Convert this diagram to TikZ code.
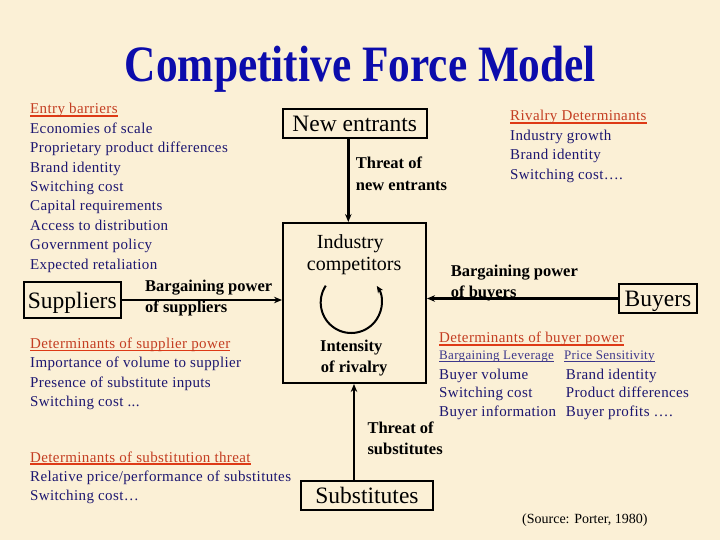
\documentclass[tikz,border=0pt]{standalone}
\usepackage{fontspec}
\usepackage{graphicx}
\setmainfont{Liberation Serif}
\newfontfamily\spacedfont[LetterSpace=2.5]{Liberation Serif}
\usetikzlibrary{arrows.meta}
\definecolor{bg}{RGB}{251,240,214}
\definecolor{navy}{RGB}{28,22,112}
\definecolor{redh}{RGB}{196,62,34}
\definecolor{redu}{RGB}{222,58,22}
\definecolor{subc}{RGB}{62,56,140}
\definecolor{titleblue}{RGB}{12,12,172}
\newcommand\myul[3]{\setbox0\hbox{#3}\leavevmode\rlap{\color{#1}\rule[-2.8pt]{\wd0}{#2}}\box0}
\begin{document}
\begin{tikzpicture}[x=1pt,y=-1pt,
  item/.style={anchor=base west,inner sep=0pt,text=navy,font=\spacedfont\fontsize{15}{18}\selectfont},
  head/.style={item,text=redh},
  box/.style={draw=black,line width=2pt,inner sep=0pt,text height=16pt,text depth=0pt,font=\fontsize{23.5}{26}\selectfont},
  lbl/.style={anchor=base west,inner sep=0pt,font=\bfseries\fontsize{16.5}{19}\selectfont},
  reg/.style={anchor=base,inner sep=0pt,font=\fontsize{20}{22}\selectfont},
  arr/.style={line width=2.4pt,-{Stealth[length=8pt,width=6.5pt]}}]
\fill[bg] (0,0) rectangle (720,540);
\useasboundingbox (0,0) rectangle (720,540);
% title
\node[text=titleblue,anchor=base,inner sep=0pt,font=\bfseries\fontsize{51}{56}\selectfont] (title) at (360.5,81.5) {\scalebox{0.85}[1]{Competitive Force Model}};
% boxes
\node[box,minimum width=144,minimum height=29.5] (ne) at (354.7,123.7) {New entrants};
\node[box,minimum width=96.7,minimum height=35.4] (sup) at (72.3,300) {Suppliers};
\node[box,minimum width=77.7,minimum height=29] (buy) at (658,298.5) {Buyers};
\node[box,minimum width=132,minimum height=29] (sub) at (367,495.5) {Substitutes};
\node[draw=black,line width=2pt,minimum width=143,minimum height=160,inner sep=0pt] (ind) at (354.5,303) {};
% arrows
\draw[arr] (sup.east) -- (sup.east -| ind.west);
\draw[arr] (buy.west) -- (buy.west -| ind.east);
\coordinate (nx) at (348.3,0);
\draw[arr] (ne.south -| nx) -- (ind.north -| nx);
\coordinate (sx) at (354,0);
\draw[arr] (sub.north -| sx) -- (ind.south -| sx);
% rivalry loop
\coordinate (rc) at (351.2,302.5);
\draw[line width=2pt,-{Stealth[length=7pt,width=6pt]}] (rc) ++(213.5:30.5) arc[start angle=213.5,end angle=-33,radius=30.5];
% industry texts
\node[reg] (ic1) at (350.3,248.3) {Industry};
\node[reg] (ic2) at (354.2,270.7) {competitors};
\node[lbl,anchor=base] (ir1) at (351.3,351.7) {Intensity};
\node[lbl,anchor=base] (ir2) at (354.2,372.3) {of rivalry};
% bold labels
\node[lbl] (bps1) at (145,291.7) {Bargaining power};
\node[lbl] (bps2) at (145,312) {of suppliers};
\node[lbl] (tne1) at (355.7,169) {Threat of};
\node[lbl] (tne2) at (355.7,190.5) {new entrants};
\node[lbl] (bpb1) at (450.7,276.7) {Bargaining power};
\node[lbl] (bpb2) at (450.7,297) {of buyers};
\node[lbl] (ts1) at (367.3,433.3) {Threat of};
\node[lbl] (ts2) at (367.3,454) {substitutes};
% entry barriers
\node[head] (ebh) at (30,114) {\myul{redu}{1.6pt}{Entry barriers}};
\foreach \t [count=\i] in {{Economies of scale},{Proprietary product differences},{Brand identity},{Switching cost},{Capital requirements},{Access to distribution},{Government policy},{Expected retaliation}}
  \node[item] (eb\i) at (30,{114+19.4*\i}) {\t};
% rivalry determinants
\node[head] (rdh) at (510,121) {\myul{redu}{1.6pt}{Rivalry Determinants}};
\node[item] (rd1) at (510,140.4) {Industry growth};
\node[item] (rd2) at (510,159.8) {Brand identity};
\node[item] (rd3) at (510,179.2) {Switching cost….};
% supplier power
\node[head] (sph) at (30,348.5) {\myul{redu}{1.6pt}{Determinants of supplier power}};
\node[item] (sp1) at (30,367.9) {Importance of volume to supplier};
\node[item] (sp2) at (30,387.3) {Presence of substitute inputs};
\node[item] (sp3) at (30,406.7) {Switching cost ...};
% substitution threat
\node[head] (sth) at (30,462) {\myul{redu}{1.6pt}{Determinants of substitution threat}};
\node[item] (st1) at (30,481.4) {Relative price/performance of substitutes};
\node[item] (st2) at (30,500.8) {Switching cost…};
% buyer power
\node[head] (bph) at (439,342.7) {\myul{redu}{1.6pt}{Determinants of buyer power}};
\node[item,text=subc,font=\spacedfont\fontsize{13}{15}\selectfont] (bl) at (439,359.3) {\myul{subc}{1pt}{Bargaining Leverage}};
\node[item,text=subc,font=\spacedfont\fontsize{13}{15}\selectfont] (ps) at (564,359.3) {\myul{subc}{1pt}{Price Sensitivity}};
\node[item] (bv1) at (439,379) {Buyer volume};
\node[item] (bv2) at (439,397.7) {Switching cost};
\node[item] (bv3) at (439,416.7) {Buyer information};
\node[item] (ps1) at (565.7,379) {Brand identity};
\node[item] (ps2) at (565.7,397.7) {Product differences};
\node[item] (ps3) at (565.7,416.7) {Buyer profits ….};
% source
\node[anchor=base west,inner sep=0pt,font=\fontsize{14}{16}\selectfont] (src) at (522,523) {(Source: Porter, 1980)};
\end{tikzpicture}
\end{document}
